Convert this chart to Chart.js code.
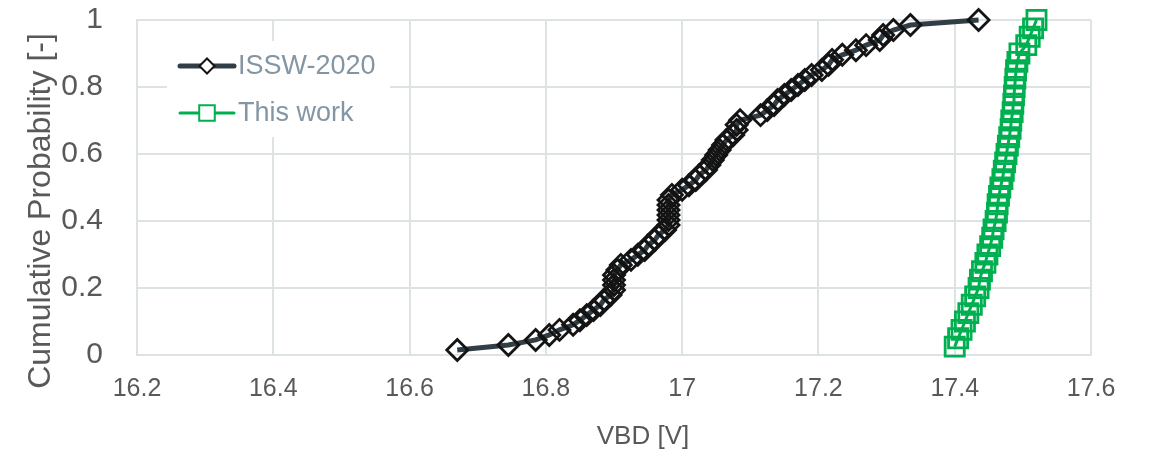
<!DOCTYPE html>
<html>
<head>
<meta charset="utf-8">
<script src="https://cdn.jsdelivr.net/npm/chart.js@4.4.1/dist/chart.umd.min.js"></script>
<style>
  html, body { margin: 0; padding: 0; background: #ffffff; }
  #wrap { width: 1151px; height: 459px; position: relative; }
</style>
</head>
<body>
<div id="wrap"><canvas id="c" width="1151" height="459"></canvas></div>
<script>
// Axis tick labels
const xTickLabels = ['16.2', '16.4', '16.6', '16.8', '17', '17.2', '17.4', '17.6'];
const yTickLabels = ['0', '0.2', '0.4', '0.6', '0.8', '1'];

// Series names and axis titles
const seriesNames = ['ISSW-2020', 'This work'];
const xAxisTitle = 'VBD [V]';
const yAxisTitle = 'Cumulative Probability [-]';

// ISSW-2020 breakdown voltages and cumulative probabilities
const isswVbd = [
  16.670, 16.745, 16.785, 16.805, 16.820, 16.840, 16.850, 16.860, 16.870, 16.880,
  16.885, 16.895, 16.900, 16.900, 16.900, 16.900, 16.905, 16.910, 16.925, 16.935,
  16.945, 16.950, 16.960, 16.965, 16.975, 16.980, 16.980, 16.980, 16.980, 16.980,
  16.980, 16.985, 17.000, 17.010, 17.020, 17.025, 17.035, 17.040, 17.045, 17.050,
  17.055, 17.060, 17.065, 17.075, 17.080, 17.080, 17.085, 17.115, 17.125, 17.135,
  17.140, 17.150, 17.160, 17.170, 17.180, 17.190, 17.205, 17.215, 17.220, 17.235,
  17.255, 17.270, 17.290, 17.295, 17.310, 17.335, 17.435
];
const isswProb = [
  0.015, 0.030, 0.045, 0.060, 0.075, 0.090, 0.104, 0.119, 0.134, 0.149,
  0.164, 0.179, 0.194, 0.209, 0.224, 0.239, 0.254, 0.269, 0.284, 0.299,
  0.313, 0.328, 0.343, 0.358, 0.373, 0.388, 0.403, 0.418, 0.433, 0.448,
  0.463, 0.478, 0.493, 0.507, 0.522, 0.537, 0.552, 0.567, 0.582, 0.597,
  0.612, 0.627, 0.642, 0.657, 0.672, 0.687, 0.701, 0.716, 0.731, 0.746,
  0.761, 0.776, 0.791, 0.806, 0.821, 0.836, 0.851, 0.866, 0.881, 0.896,
  0.910, 0.925, 0.940, 0.955, 0.970, 0.985, 1.000
];

// This work breakdown voltages and cumulative probabilities
const thisWorkVbd = [
  17.400, 17.405, 17.410, 17.415, 17.420, 17.425, 17.430, 17.435, 17.437, 17.440,
  17.445, 17.448, 17.452, 17.455, 17.457, 17.460, 17.462, 17.463, 17.465, 17.467,
  17.470, 17.472, 17.474, 17.476, 17.478, 17.480, 17.482, 17.483, 17.485, 17.486,
  17.487, 17.488, 17.489, 17.490, 17.492, 17.495, 17.505, 17.510, 17.515, 17.520
];
const thisWorkProb = [
  0.025, 0.050, 0.075, 0.100, 0.125, 0.150, 0.175, 0.200, 0.225, 0.250,
  0.275, 0.300, 0.325, 0.350, 0.375, 0.400, 0.425, 0.450, 0.475, 0.500,
  0.525, 0.550, 0.575, 0.600, 0.625, 0.650, 0.675, 0.700, 0.725, 0.750,
  0.775, 0.800, 0.825, 0.850, 0.875, 0.900, 0.925, 0.950, 0.975, 1.000
];

const FONT = "'Liberation Sans', Arial, sans-serif";
const GRID = '#dde2e5';
const TICK_COLOR = '#595959';

function toPoints(xs, ys) {
  return xs.map((x, i) => ({ x: x, y: ys[i] }));
}

const datasets = [
  {
    label: seriesNames[0],
    data: toPoints(isswVbd, isswProb),
    showLine: true,
    borderColor: '#323e46',
    borderWidth: 5,
    pointStyle: 'rectRot',
    pointRadius: 10.5,
    pointBorderColor: '#141414',
    pointBorderWidth: 2.8,
    pointBackgroundColor: 'rgba(0,0,0,0)',
    clip: false
  },
  {
    label: seriesNames[1],
    data: toPoints(thisWorkVbd, thisWorkProb),
    showLine: true,
    borderColor: '#00b050',
    borderWidth: 3,
    pointStyle: 'rect',
    pointRadius: 13.5,
    pointBorderColor: '#00b050',
    pointBorderWidth: 2.8,
    pointBackgroundColor: 'rgba(0,0,0,0)',
    clip: false
  }
];

// Legend box and axis titles drawn on top of the plot
const overlay = {
  id: 'overlay',
  afterDatasetsDraw(chart) {
    const ctx = chart.ctx;
    ctx.save();
    // legend background hides the grid behind it
    ctx.fillStyle = '#ffffff';
    ctx.fillRect(167, 41, 223, 96);

    const rows = [
      { y: 66, ds: chart.data.datasets[0], radius: 7.5 },
      { y: 113, ds: chart.data.datasets[1], radius: 11 }
    ];
    rows.forEach(r => {
      ctx.strokeStyle = r.ds.borderColor;
      ctx.lineWidth = r.ds.borderWidth;
      ctx.lineCap = 'round';
      ctx.beginPath();
      ctx.moveTo(180, r.y);
      ctx.lineTo(234, r.y);
      ctx.stroke();
      ctx.fillStyle = '#ffffff';
      ctx.strokeStyle = r.ds.pointBorderColor;
      ctx.lineWidth = 2;
      Chart.helpers.drawPoint(ctx, {
        pointStyle: r.ds.pointStyle,
        radius: r.radius,
        rotation: 0,
        borderWidth: 2
      }, 207, r.y);
      ctx.fillStyle = '#8496a4';
      ctx.font = '27px ' + FONT;
      ctx.textAlign = 'left';
      ctx.textBaseline = 'middle';
      ctx.fillText(r.ds.label, 238, r.y + 1);
    });

    // axis titles
    ctx.fillStyle = TICK_COLOR;
    ctx.font = '26px ' + FONT;
    ctx.textAlign = 'center';
    ctx.textBaseline = 'middle';
    ctx.fillText(xAxisTitle, 643, 437);

    ctx.translate(41, 211);
    ctx.rotate(-Math.PI / 2);
    ctx.font = '32px ' + FONT;
    ctx.fillText(yAxisTitle, 0, 0);
    ctx.restore();
  }
};

new Chart(document.getElementById('c'), {
  type: 'scatter',
  data: { datasets: datasets },
  plugins: [overlay],
  options: {
    responsive: false,
    animation: false,
    devicePixelRatio: 1,
    layout: { padding: { top: 20, right: 60, left: 0, bottom: 0 } },
    plugins: {
      legend: { display: false },
      tooltip: { enabled: false }
    },
    scales: {
      x: {
        type: 'linear',
        min: parseFloat(xTickLabels[0]),
        max: parseFloat(xTickLabels[xTickLabels.length - 1]),
        afterBuildTicks: axis => { axis.ticks = xTickLabels.map(s => ({ value: parseFloat(s) })); },
        afterFit: axis => { axis.height = 104; },
        ticks: {
          callback: (v, i) => xTickLabels[i],
          color: TICK_COLOR,
          font: { family: FONT, size: 25 },
          padding: 19,
          maxRotation: 0,
          autoSkip: false
        },
        grid: { color: GRID, lineWidth: 2, drawTicks: false },
        border: { color: GRID, width: 2 }
      },
      y: {
        type: 'linear',
        min: parseFloat(yTickLabels[0]),
        max: parseFloat(yTickLabels[yTickLabels.length - 1]),
        afterBuildTicks: axis => { axis.ticks = yTickLabels.map(s => ({ value: parseFloat(s) })); },
        afterFit: axis => { axis.width = 137; },
        ticks: {
          callback: (v, i) => yTickLabels[i],
          color: TICK_COLOR,
          font: { family: FONT, size: 30 },
          padding: 0,
          autoSkip: false
        },
        grid: { color: GRID, lineWidth: 2, drawTicks: true, tickLength: 34, tickColor: 'rgba(0,0,0,0)' },
        border: { color: GRID, width: 2 }
      }
    }
  }
});
</script>
</body>
</html>
